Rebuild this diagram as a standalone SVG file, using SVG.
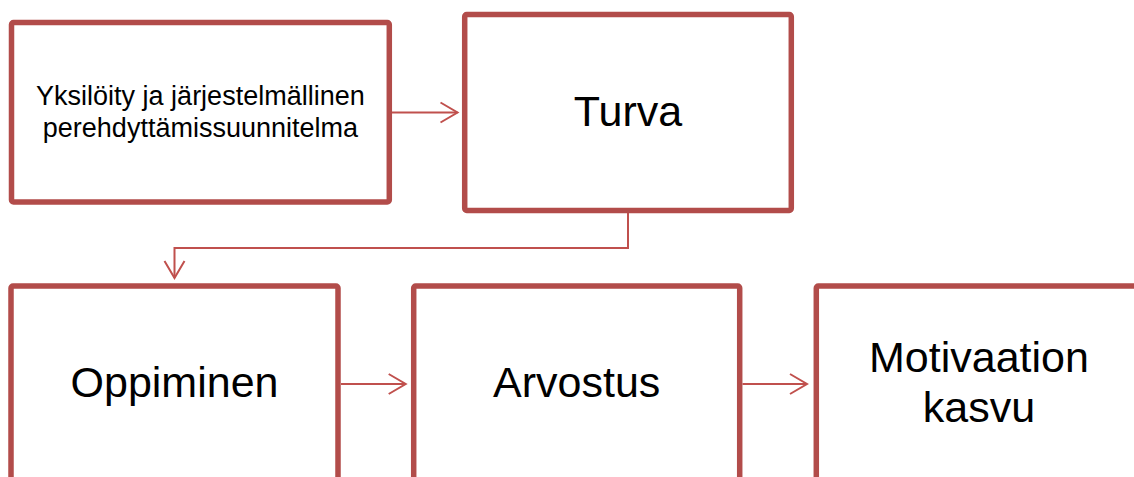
<svg xmlns="http://www.w3.org/2000/svg" width="1134" height="477" viewBox="0 0 1134 477">
  <style>
    .box { fill: #ffffff; stroke: #b24c4a; stroke-width: 5.5; }
    .conn { fill: none; stroke: #c0504d; stroke-width: 2; }
    .lbl { font-family: "Liberation Sans", Arial, sans-serif; fill: #000000; text-anchor: middle; }
    .big { font-size: 43px; }
    .small { font-size: 27px; }
  </style>
  <defs>
    <marker id="arrow" markerUnits="userSpaceOnUse" viewBox="0 0 20 24" markerWidth="20" markerHeight="24" refX="18" refY="12" orient="auto">
      <path d="M1,2 L18,12 L1,22" fill="none" stroke="#c0504d" stroke-width="2"/>
    </marker>
  </defs>
  <rect width="1134" height="477" fill="#ffffff"/>

  <!-- connectors -->
  <g id="connectors">
    <path class="conn" d="M392,112.5 H457.5" marker-end="url(#arrow)"/>
    <path class="conn" d="M628,213 V248 H174.5 V278" marker-end="url(#arrow)"/>
    <path class="conn" d="M341,384 H405.7" marker-end="url(#arrow)"/>
    <path class="conn" d="M742.5,384 H807" marker-end="url(#arrow)"/>
  </g>

  <g id="plan">
    <rect class="box" x="11.5" y="22.5" width="377.8" height="179.5" rx="2"/>
    <text class="lbl small" x="200.4" y="104.5">Yksilöity ja järjestelmällinen</text>
    <text class="lbl small" x="200.4" y="137">perehdyttämissuunnitelma</text>
  </g>

  <g id="turva">
    <rect class="box" x="464.7" y="14.5" width="326.6" height="196" rx="2"/>
    <text class="lbl big" x="628" y="126">Turva</text>
  </g>

  <g id="oppiminen">
    <rect class="box" x="11" y="286" width="327" height="230" rx="2"/>
    <text class="lbl big" x="174.5" y="396.7">Oppiminen</text>
  </g>

  <g id="arvostus">
    <rect class="box" x="413.7" y="286" width="326" height="230" rx="2"/>
    <text class="lbl big" x="576.7" y="396.7">Arvostus</text>
  </g>

  <g id="motivaatio">
    <rect class="box" x="816.3" y="286" width="326" height="230" rx="2"/>
    <text class="lbl big" x="979" y="371.7">Motivaation</text>
    <text class="lbl big" x="979" y="421.7">kasvu</text>
  </g>
</svg>
